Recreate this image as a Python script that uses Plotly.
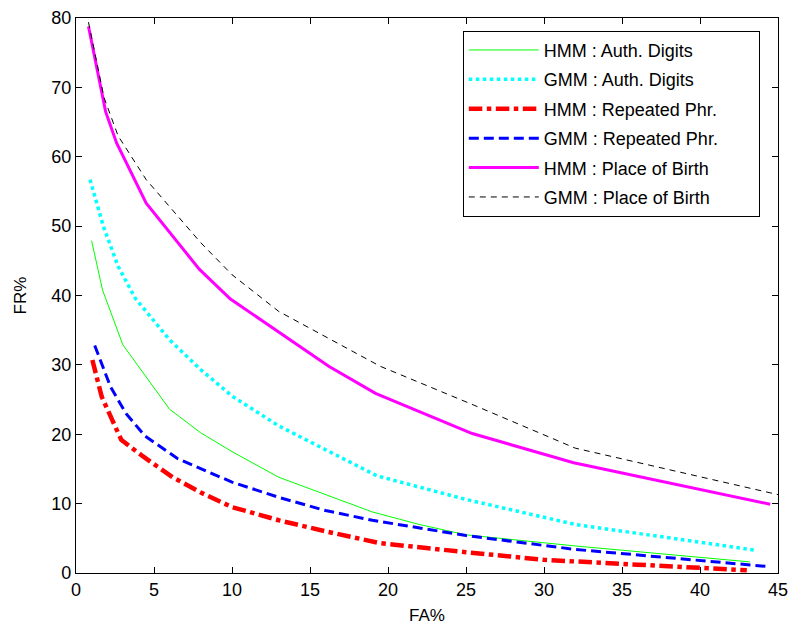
import plotly.graph_objects as go

# HMM : Auth. Digits
hmm_auth_x = [1.0, 1.7, 3.0, 6.0, 8.0, 10.0, 13.0, 19.0, 22.0, 25.0, 32.0, 43.2]
hmm_auth_y = [47.9, 40.8, 32.9, 23.6, 20.2, 17.5, 13.8, 8.8, 7.0, 5.5, 3.9, 1.6]
# GMM : Auth. Digits
gmm_auth_x = [0.9, 1.75, 2.7, 3.8, 6.0, 8.0, 10.0, 13.0, 19.3, 25.0, 32.0, 43.5]
gmm_auth_y = [56.7, 50.0, 44.2, 39.6, 33.6, 29.3, 25.5, 21.2, 14.0, 10.6, 7.0, 3.3]
# HMM : Repeated Phr.
hmm_rep_x = [1.05, 1.65, 2.9, 4.3, 6.2, 8.0, 10.0, 13.0, 16.0, 19.5, 25.0, 30.0, 36.0, 43.0]
hmm_rep_y = [30.7, 25.4, 19.2, 16.8, 13.8, 11.6, 9.5, 7.6, 6.0, 4.3, 3.0, 1.9, 1.2, 0.4]
# GMM : Repeated Phr.
gmm_rep_x = [1.2, 2.2, 3.2, 4.4, 6.5, 8.0, 10.0, 13.0, 16.0, 19.0, 25.0, 32.0, 44.5]
gmm_rep_y = [32.8, 26.9, 23.0, 19.8, 16.5, 15.0, 13.1, 10.9, 9.0, 7.6, 5.4, 3.4, 0.9]
# HMM : Place of Birth
hmm_pob_x = [0.8, 1.9, 2.6, 4.5, 7.9, 9.9, 16.2, 19.2, 25.4, 31.9, 44.5]
hmm_pob_y = [78.8, 66.5, 62.0, 53.3, 43.8, 39.5, 29.8, 25.9, 20.1, 15.9, 9.9]
# GMM : Place of Birth
gmm_pob_x = [0.8, 1.8, 2.7, 4.5, 8.0, 10.0, 13.0, 16.5, 19.5, 25.5, 32.0, 45.0]
gmm_pob_y = [79.4, 68.5, 63.0, 56.7, 47.6, 43.0, 37.7, 33.5, 29.8, 24.2, 18.0, 11.3]

x_ticks = [0, 5, 10, 15, 20, 25, 30, 35, 40, 45]
y_ticks = [0, 10, 20, 30, 40, 50, 60, 70, 80]

series = [
    ("HMM : Auth. Digits", hmm_auth_x, hmm_auth_y, "#00ff00", 1, "solid"),
    ("GMM : Auth. Digits", gmm_auth_x, gmm_auth_y, "#00ffff", 3.5, "3.5px,3.5px"),
    ("HMM : Repeated Phr.", hmm_rep_x, hmm_rep_y, "#ff0000", 4.5, "dashdot"),
    ("GMM : Repeated Phr.", gmm_rep_x, gmm_rep_y, "#0000ff", 3, "10px,5px"),
    ("HMM : Place of Birth", hmm_pob_x, hmm_pob_y, "#ff00ff", 3, "solid"),
    ("GMM : Place of Birth", gmm_pob_x, gmm_pob_y, "#000000", 1, "6px,5px"),
]

pad = "\u00a0" * 7

fig = go.Figure()
for i, (name, xs, ys, col, w, dash) in enumerate(series):
    fig.add_trace(go.Scatter(x=xs, y=ys, mode="lines", name=name + pad,
                             legendgroup=f"g{i}",
                             line=dict(color=col, width=w, dash=dash)))

font = "Arial, Liberation Sans, sans-serif"
axis_common = dict(showline=True, linecolor="black", linewidth=1.3, mirror="allticks",
                   ticks="inside", ticklen=6, tickcolor="black", showgrid=False,
                   zeroline=False, automargin=False,
                   tickfont=dict(family=font, size=18, color="black"))
fig.update_xaxes(range=[0, 45], tickvals=x_ticks,
                 title=dict(text="FA%", font=dict(family=font, size=17, color="black"), standoff=10),
                 **axis_common)
fig.update_yaxes(range=[0, 80], tickvals=y_ticks,
                 title=dict(text="FR%", font=dict(family=font, size=17, color="black"), standoff=20),
                 **axis_common)

fig.update_layout(
    width=791, height=627,
    margin=dict(l=76, r=13, t=18, b=54),
    plot_bgcolor="white", paper_bgcolor="white",
    font=dict(family=font, size=17, color="black"),
    legend=dict(x=0.551, y=0.977, xanchor="left", yanchor="top",
                bordercolor="black", borderwidth=1, bgcolor="white",
                font=dict(family=font, size=18, color="black"),
                traceorder="grouped", tracegroupgap=3, itemwidth=70),
    showlegend=True,
)
fig.write_html("out.html")
